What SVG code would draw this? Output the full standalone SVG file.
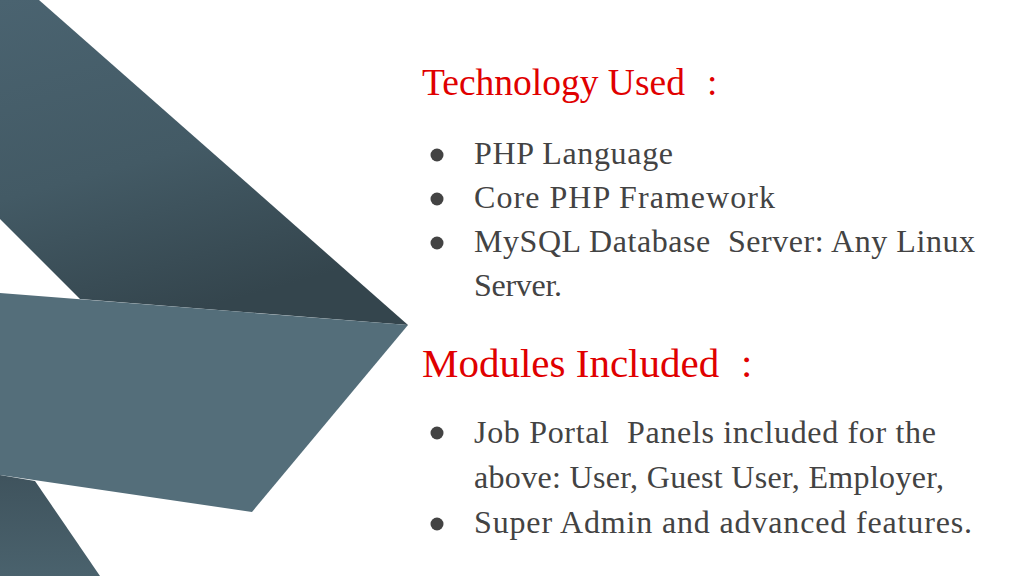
<svg xmlns="http://www.w3.org/2000/svg" width="1024" height="576" viewBox="0 0 1024 576">
  <defs>
    <linearGradient id="gTop" x1="0" y1="0" x2="0.35" y2="1">
      <stop offset="0" stop-color="#4a6370"/>
      <stop offset="0.55" stop-color="#435a65"/>
      <stop offset="1" stop-color="#34454d"/>
    </linearGradient>
    <linearGradient id="gBot" x1="0" y1="0" x2="0" y2="1">
      <stop offset="0" stop-color="#3f535d"/>
      <stop offset="1" stop-color="#4a626d"/>
    </linearGradient>
    <style>
      .title { font-family: "Liberation Serif", "DejaVu Serif", serif; fill: #e00000; }
      .body { font-family: "Liberation Serif", "DejaVu Serif", serif; font-size: 32px; fill: #434343; }
      .bullet { fill: #434343; }
    </style>
  </defs>
  <rect width="1024" height="576" fill="#ffffff"/>
  <g id="shapes">
    <polygon points="0,0 39,0 408,325 80,299 0,219" fill="url(#gTop)"/>
    <polygon points="0,475 35,481 100,576 0,576" fill="url(#gBot)"/>
    <polygon points="0,293 408,325 252,512 0,475" fill="#546e7a"/>
  </g>
  <g id="technology">
    <text class="title" x="422" y="95" font-size="37.5">Technology Used</text>
    <text class="title" x="707" y="95" font-size="37.5">:</text>
    <circle class="bullet" cx="437" cy="155" r="6.5"/>
    <text class="body" x="474" y="164" textLength="199" lengthAdjust="spacing">PHP Language</text>
    <circle class="bullet" cx="437" cy="199" r="6.5"/>
    <text class="body" x="474" y="208" textLength="301" lengthAdjust="spacing">Core PHP Framework</text>
    <circle class="bullet" cx="437" cy="243" r="6.5"/>
    <text class="body" x="474" y="252" xml:space="preserve" textLength="501" lengthAdjust="spacing">MySQL Database  Server: Any Linux</text>
    <text class="body" x="474" y="296" textLength="88" lengthAdjust="spacing">Server.</text>
  </g>
  <g id="modules">
    <text class="title" x="422" y="377" font-size="41">Modules Included</text>
    <text class="title" x="741" y="377" font-size="41">:</text>
    <circle class="bullet" cx="437" cy="433" r="6.5"/>
    <text class="body" x="474" y="443" xml:space="preserve" textLength="462" lengthAdjust="spacing">Job Portal  Panels included for the</text>
    <text class="body" x="474" y="488" textLength="470" lengthAdjust="spacing">above: User, Guest User, Employer,</text>
    <circle class="bullet" cx="437" cy="524" r="6.5"/>
    <text class="body" x="474" y="533" textLength="498" lengthAdjust="spacing">Super Admin and advanced features.</text>
  </g>
</svg>
